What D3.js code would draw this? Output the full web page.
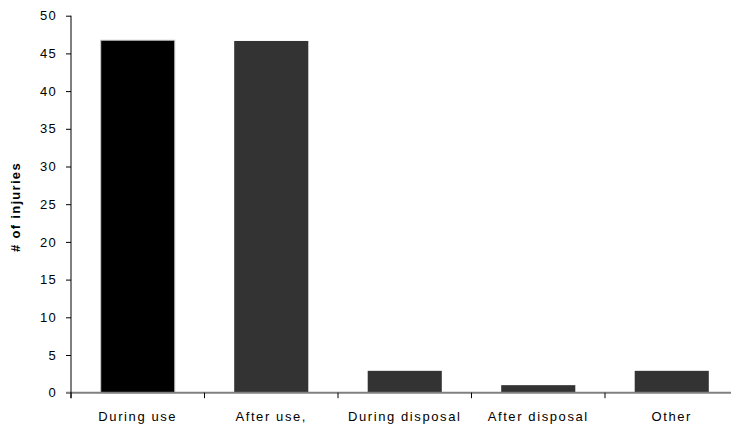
<!DOCTYPE html>
<html><head><meta charset="utf-8">
<script src="https://cdn.jsdelivr.net/npm/d3@7"></script>
<style>body{margin:0;background:#fff}svg{display:block}</style>
</head><body>
<svg id="c" width="731" height="427"></svg>
<script>
const categories = ["During use", "After use,", "During disposal", "After disposal", "Other"];
const values = [46.75, 46.65, 2.9, 1.0, 2.9];
const barColors = ["#000000", "#333333", "#333333", "#333333", "#333333"];
const yTicks = [0, 5, 10, 15, 20, 25, 30, 35, 40, 45, 50];
const yTitle = "# of injuries";

const svg = d3.select("#c");
const x0 = 71, yTop = 15.7, yBot = 392.7;
const x = d3.scaleBand().domain(categories).range([x0, x0 + 133.5 * categories.length]).paddingInner(0.445).paddingOuter(0.2225);
const y = d3.scaleLinear().domain([0, 50]).range([yBot, yTop]);

// bars
svg.append("g").selectAll("rect").data(values).join("rect")
  .attr("x", (d, i) => x(categories[i]))
  .attr("y", d => y(d))
  .attr("width", x.bandwidth())
  .attr("height", d => y(0) - y(d))
  .attr("fill", (d, i) => barColors[i])
  .attr("stroke", (d, i) => i === 0 ? "#c8c8c8" : "none")
  .attr("stroke-width", 1);

// x axis line (gray)
svg.append("line").attr("x1", x0 - 5).attr("x2", 731).attr("y1", y(0)).attr("y2", y(0))
  .attr("stroke", "#808080").attr("stroke-width", 2);

// x ticks between categories
const step = x.step();
const xTickPos = d3.range(categories.length + 1).map(i => x0 + i * step);
svg.append("g").selectAll("line").data(xTickPos).join("line")
  .attr("x1", d => d).attr("x2", d => d)
  .attr("y1", y(0)).attr("y2", y(0) + 5.5)
  .attr("stroke", "#000").attr("stroke-width", 1);

// y axis
const yAxis = d3.axisLeft(y).tickValues(yTicks).tickSize(5).tickPadding(9);
const gy = svg.append("g").attr("transform", `translate(${x0},0)`).call(yAxis);
gy.select(".domain").remove();
gy.selectAll(".tick line").attr("stroke", "#000");
gy.selectAll(".tick").filter(d => d === 0).select("line").attr("stroke", "#808080");
gy.selectAll("text").attr("font-family", "Liberation Sans, Arial, sans-serif")
  .attr("font-size", 13).attr("fill", "#000").style("letter-spacing", "1.3px");
svg.append("line").attr("x1", x0).attr("x2", x0).attr("y1", yTop).attr("y2", y(0) + 5.5)
  .attr("stroke", "#000").attr("stroke-width", 1);

// x labels
svg.append("g").selectAll("text").data(categories).join("text")
  .attr("x", d => x(d) + x.bandwidth() / 2)
  .attr("y", 421)
  .attr("text-anchor", "middle")
  .attr("font-family", "Liberation Sans, Arial, sans-serif")
  .attr("font-size", 13)
  .style("letter-spacing", "1.6px")
  .text(d => d);

// y title
svg.append("text")
  .attr("transform", `translate(20,207) rotate(-90)`)
  .attr("text-anchor", "middle")
  .attr("font-family", "Liberation Sans, Arial, sans-serif")
  .attr("font-size", 13)
  .attr("font-weight", "bold")
  .style("letter-spacing", "1.3px")
  .text(yTitle);
</script>
</body></html>
